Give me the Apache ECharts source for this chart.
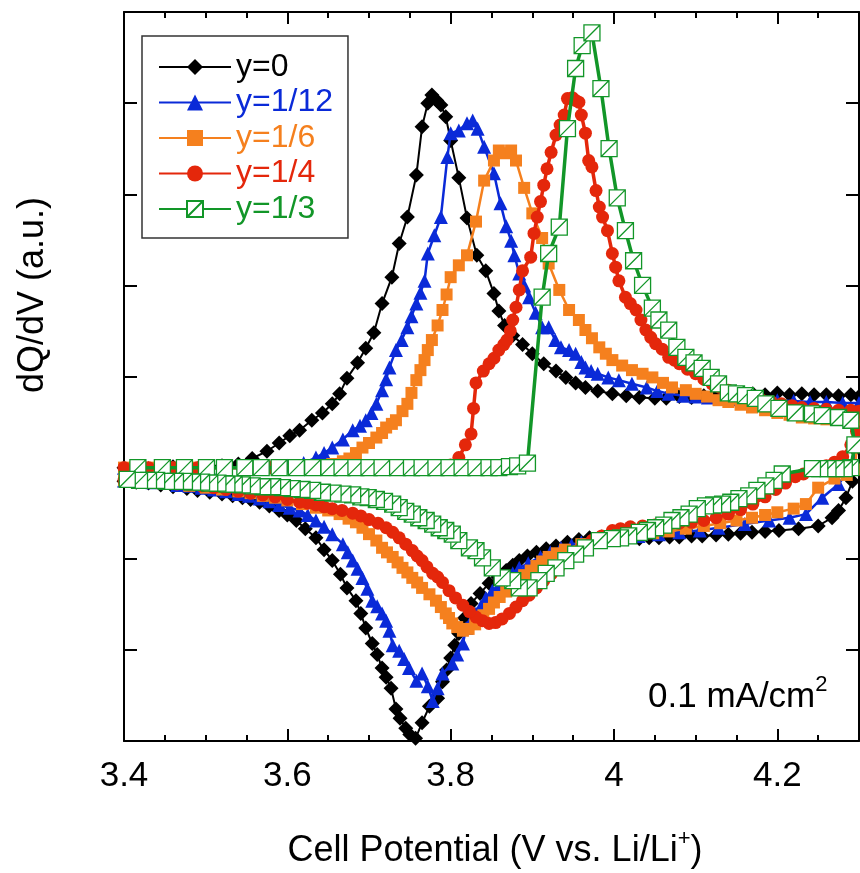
<!DOCTYPE html>
<html><head><meta charset="utf-8">
<script src="https://cdn.jsdelivr.net/npm/echarts@6/dist/echarts.min.js"></script>
<style>html,body{margin:0;padding:0;background:#fff}#c{width:860px;height:873px}</style>
</head><body><div id="c"></div>
<script>
const FONT = '"Liberation Sans", Arial, Helvetica, sans-serif';
const seriesNames = ['y=0', 'y=1/12', 'y=1/6', 'y=1/4', 'y=1/3'];
const seriesColors = ['#000000', '#0a2ad8', '#f5801e', '#e4270b', '#129628'];
const xTickValues = [3.4, 3.6, 3.8, 4.0, 4.2];
const xAxisTitle = 'Cell Potential (V vs. Li/Li{sup|+})';
const yAxisTitle = 'dQ/dV (a.u.)';
const noteText = '0.1 mA/cm{sup|2}';

// y = 0 : charge then discharge (x in V, dQ/dV in a.u.)
const dataY0 = [
[3.40,0.00],[3.42,0.00],[3.44,0.00],[3.46,0.01],[3.48,0.01],[3.50,0.01],[3.52,0.02],[3.54,0.04],[3.557,0.10],[3.575,0.18],[3.59,0.27],[3.603,0.35],[3.615,0.41],[3.63,0.52],[3.643,0.60],[3.655,0.70],[3.664,0.81],[3.673,0.98],[3.686,1.15],[3.696,1.31],[3.706,1.48],[3.716,1.80],[3.728,2.09],[3.737,2.46],[3.747,2.75],[3.758,3.21],[3.765,3.74],[3.772,4.00],[3.777,4.09],[3.783,4.03],[3.788,3.98],[3.794,3.85],[3.800,3.59],[3.810,3.18],[3.820,2.74],[3.832,2.33],[3.843,2.16],[3.853,1.91],[3.859,1.72],[3.866,1.56],[3.876,1.45],[3.888,1.35],[3.900,1.25],[3.914,1.14],[3.929,1.06],[3.941,0.99],[3.953,0.93],[3.965,0.88],[3.980,0.84],[3.998,0.81],[4.015,0.79],[4.031,0.77],[4.050,0.76],[4.064,0.76],[4.080,0.78],[4.095,0.77],[4.110,0.79],[4.125,0.78],[4.140,0.80],[4.155,0.79],[4.170,0.81],[4.185,0.80],[4.200,0.82],[4.215,0.80],[4.230,0.81],[4.245,0.80],[4.260,0.80],[4.275,0.79],[4.290,0.80],[4.300,0.78],
[4.298,0.55],[4.295,0.20],[4.292,-0.15],[4.284,-0.33],[4.275,-0.47],[4.267,-0.55],[4.250,-0.64],[4.226,-0.67],[4.202,-0.69],[4.185,-0.70],[4.169,-0.71],[4.155,-0.72],[4.140,-0.73],[4.125,-0.74],[4.108,-0.75],[4.095,-0.75],[4.080,-0.76],[4.068,-0.76],[4.055,-0.77],[4.043,-0.77],[4.031,-0.78],[4.015,-0.77],[4.000,-0.76],[3.985,-0.76],[3.970,-0.77],[3.957,-0.79],[3.943,-0.82],[3.929,-0.86],[3.917,-0.89],[3.905,-0.93],[3.894,-0.97],[3.884,-1.02],[3.876,-1.07],[3.868,-1.13],[3.858,-1.20],[3.847,-1.27],[3.836,-1.38],[3.825,-1.49],[3.817,-1.65],[3.810,-1.82],[3.805,-1.95],[3.800,-2.09],[3.795,-2.22],[3.790,-2.35],[3.784,-2.53],[3.774,-2.62],[3.765,-2.80],[3.757,-2.97],[3.750,-2.93],[3.745,-2.86],[3.738,-2.75],[3.733,-2.65],[3.727,-2.42],[3.721,-2.30],[3.716,-2.20],[3.710,-2.05],[3.704,-1.93],[3.696,-1.76],[3.690,-1.60],[3.684,-1.46],[3.673,-1.32],[3.665,-1.17],[3.655,-1.02],[3.645,-0.90],[3.635,-0.77],[3.622,-0.67],[3.611,-0.58],[3.600,-0.52],[3.590,-0.47],[3.578,-0.42],[3.566,-0.38],[3.555,-0.35],[3.545,-0.33],[3.533,-0.31],[3.520,-0.29],[3.505,-0.27],[3.490,-0.25],[3.477,-0.23],[3.460,-0.21],[3.445,-0.19],[3.430,-0.17],[3.415,-0.16],[3.400,-0.15]
];

// y = 1/12
const dataY112 = [
[3.40,0.00],[3.43,0.00],[3.46,0.00],[3.49,0.00],[3.52,0.00],[3.55,0.01],[3.58,0.01],[3.60,0.02],[3.62,0.05],[3.635,0.11],[3.645,0.16],[3.655,0.22],[3.668,0.31],[3.680,0.41],[3.689,0.46],[3.696,0.52],[3.703,0.60],[3.709,0.70],[3.716,0.85],[3.721,0.97],[3.725,1.10],[3.733,1.29],[3.740,1.40],[3.747,1.54],[3.752,1.66],[3.758,1.80],[3.763,1.92],[3.768,2.05],[3.772,2.35],[3.780,2.55],[3.788,2.75],[3.796,3.41],[3.800,3.67],[3.810,3.70],[3.820,3.78],[3.827,3.81],[3.833,3.72],[3.841,3.52],[3.853,3.23],[3.861,2.90],[3.868,2.65],[3.874,2.49],[3.878,2.33],[3.884,2.13],[3.890,2.00],[3.896,1.87],[3.904,1.70],[3.912,1.54],[3.920,1.54],[3.928,1.40],[3.935,1.32],[3.945,1.29],[3.953,1.25],[3.960,1.16],[3.965,1.10],[3.972,1.06],[3.980,1.03],[3.993,0.99],[4.006,0.96],[4.022,0.92],[4.040,0.88],[4.053,0.84],[4.067,0.81],[4.085,0.79],[4.100,0.78],[4.115,0.77],[4.130,0.76],[4.145,0.75],[4.160,0.74],[4.180,0.74],[4.200,0.74],[4.220,0.73],[4.240,0.72],[4.260,0.72],[4.280,0.71],[4.300,0.71],
[4.297,0.35],[4.292,0.02],[4.275,-0.18],[4.255,-0.33],[4.235,-0.51],[4.215,-0.55],[4.190,-0.58],[4.160,-0.62],[4.128,-0.66],[4.105,-0.69],[4.080,-0.71],[4.055,-0.73],[4.030,-0.75],[4.010,-0.77],[3.990,-0.78],[3.975,-0.80],[3.960,-0.82],[3.948,-0.85],[3.935,-0.88],[3.922,-0.93],[3.910,-0.98],[3.895,-1.05],[3.884,-1.10],[3.876,-1.16],[3.868,-1.22],[3.860,-1.28],[3.851,-1.35],[3.843,-1.43],[3.837,-1.52],[3.831,-1.60],[3.825,-1.68],[3.819,-1.76],[3.815,-1.93],[3.808,-2.05],[3.802,-2.15],[3.790,-2.26],[3.784,-2.42],[3.778,-2.56],[3.772,-2.40],[3.765,-2.26],[3.758,-2.34],[3.749,-2.20],[3.743,-2.10],[3.737,-2.01],[3.729,-1.95],[3.725,-1.79],[3.721,-1.68],[3.716,-1.60],[3.710,-1.52],[3.704,-1.46],[3.698,-1.33],[3.692,-1.21],[3.686,-1.11],[3.680,-1.02],[3.674,-0.93],[3.668,-0.84],[3.655,-0.73],[3.645,-0.65],[3.635,-0.58],[3.625,-0.52],[3.615,-0.47],[3.603,-0.44],[3.590,-0.41],[3.578,-0.37],[3.566,-0.34],[3.553,-0.31],[3.540,-0.29],[3.525,-0.26],[3.510,-0.24],[3.495,-0.22],[3.480,-0.20],[3.465,-0.19],[3.450,-0.17],[3.435,-0.16],[3.420,-0.15],[3.400,-0.14]
];

// y = 1/6
const dataY16 = [
[3.40,0.00],[3.43,0.00],[3.46,0.00],[3.49,0.00],[3.52,0.00],[3.55,0.00],[3.58,0.01],[3.61,0.01],[3.635,0.02],[3.655,0.04],[3.668,0.07],[3.676,0.10],[3.684,0.16],[3.692,0.22],[3.700,0.27],[3.709,0.33],[3.716,0.38],[3.721,0.44],[3.728,0.48],[3.733,0.52],[3.741,0.62],[3.747,0.70],[3.752,0.82],[3.758,0.96],[3.763,1.07],[3.768,1.18],[3.772,1.29],[3.777,1.40],[3.784,1.56],[3.790,1.73],[3.795,1.90],[3.800,2.09],[3.810,2.22],[3.820,2.33],[3.831,2.70],[3.841,3.15],[3.853,3.37],[3.859,3.48],[3.866,3.45],[3.874,3.48],[3.880,3.37],[3.890,3.07],[3.900,2.79],[3.912,2.52],[3.920,2.24],[3.933,1.95],[3.945,1.73],[3.957,1.62],[3.965,1.51],[3.973,1.42],[3.982,1.32],[3.990,1.25],[3.998,1.18],[4.010,1.12],[4.022,1.07],[4.035,1.03],[4.047,0.99],[4.060,0.93],[4.071,0.88],[4.088,0.85],[4.100,0.81],[4.114,0.78],[4.128,0.74],[4.140,0.72],[4.155,0.69],[4.169,0.66],[4.185,0.63],[4.200,0.60],[4.215,0.58],[4.230,0.55],[4.245,0.54],[4.260,0.53],[4.275,0.53],[4.290,0.52],[4.300,0.52],
[4.298,0.30],[4.295,-0.02],[4.285,-0.08],[4.270,-0.12],[4.250,-0.22],[4.235,-0.40],[4.220,-0.45],[4.200,-0.49],[4.185,-0.52],[4.169,-0.55],[4.150,-0.58],[4.130,-0.61],[4.110,-0.64],[4.088,-0.67],[4.067,-0.70],[4.048,-0.72],[4.030,-0.74],[4.015,-0.75],[4.000,-0.77],[3.980,-0.80],[3.960,-0.84],[3.940,-0.90],[3.930,-0.94],[3.920,-0.98],[3.912,-1.03],[3.905,-1.08],[3.898,-1.13],[3.890,-1.18],[3.883,-1.24],[3.876,-1.30],[3.868,-1.36],[3.860,-1.42],[3.853,-1.48],[3.847,-1.55],[3.840,-1.62],[3.830,-1.72],[3.822,-1.77],[3.815,-1.79],[3.808,-1.75],[3.802,-1.71],[3.798,-1.65],[3.794,-1.60],[3.788,-1.53],[3.782,-1.46],[3.774,-1.39],[3.765,-1.32],[3.759,-1.26],[3.753,-1.21],[3.747,-1.15],[3.741,-1.10],[3.735,-1.04],[3.729,-0.98],[3.722,-0.93],[3.716,-0.88],[3.709,-0.80],[3.700,-0.73],[3.692,-0.66],[3.684,-0.60],[3.675,-0.56],[3.664,-0.51],[3.650,-0.47],[3.635,-0.44],[3.618,-0.40],[3.600,-0.36],[3.585,-0.33],[3.570,-0.31],[3.555,-0.28],[3.540,-0.26],[3.520,-0.24],[3.500,-0.22],[3.480,-0.20],[3.460,-0.18],[3.445,-0.17],[3.430,-0.16],[3.415,-0.15],[3.400,-0.14]
];

// y = 1/4
const dataY14 = [
[3.40,0.00],[3.43,0.00],[3.46,0.00],[3.49,0.00],[3.52,0.00],[3.55,0.00],[3.58,0.00],[3.61,0.00],[3.64,0.00],[3.67,0.00],[3.70,0.00],[3.73,0.00],[3.76,0.00],[3.78,0.01],[3.800,0.03],[3.810,0.11],[3.818,0.25],[3.825,0.37],[3.828,0.65],[3.831,0.93],[3.840,1.06],[3.847,1.14],[3.853,1.20],[3.859,1.29],[3.865,1.35],[3.869,1.40],[3.873,1.50],[3.876,1.62],[3.880,1.76],[3.884,1.95],[3.888,2.16],[3.898,2.31],[3.902,2.57],[3.906,2.75],[3.910,2.92],[3.914,3.10],[3.918,3.28],[3.923,3.46],[3.929,3.65],[3.934,3.76],[3.939,3.87],[3.943,4.05],[3.949,4.06],[3.953,4.03],[3.957,4.01],[3.960,3.87],[3.965,3.67],[3.969,3.37],[3.973,3.30],[3.978,3.04],[3.982,2.86],[3.986,2.75],[3.992,2.60],[3.998,2.35],[4.002,2.20],[4.006,2.05],[4.014,1.87],[4.020,1.80],[4.027,1.73],[4.033,1.62],[4.039,1.51],[4.045,1.43],[4.051,1.36],[4.059,1.30],[4.067,1.21],[4.074,1.18],[4.080,1.14],[4.090,1.08],[4.100,1.03],[4.110,0.97],[4.120,0.92],[4.130,0.88],[4.140,0.85],[4.150,0.82],[4.160,0.79],[4.170,0.76],[4.181,0.74],[4.193,0.72],[4.205,0.70],[4.218,0.68],[4.230,0.66],[4.245,0.65],[4.260,0.64],[4.275,0.63],[4.290,0.63],[4.300,0.62],
[4.297,0.40],[4.290,0.25],[4.280,0.12],[4.270,0.06],[4.260,0.02],[4.245,-0.03],[4.232,-0.07],[4.222,-0.10],[4.210,-0.17],[4.198,-0.24],[4.185,-0.32],[4.170,-0.40],[4.155,-0.46],[4.140,-0.51],[4.125,-0.55],[4.110,-0.58],[4.095,-0.60],[4.080,-0.61],[4.067,-0.62],[4.050,-0.63],[4.035,-0.64],[4.020,-0.65],[4.008,-0.67],[3.998,-0.69],[3.985,-0.75],[3.973,-0.80],[3.960,-0.88],[3.950,-0.95],[3.941,-1.02],[3.932,-1.10],[3.923,-1.17],[3.914,-1.24],[3.905,-1.32],[3.896,-1.40],[3.888,-1.46],[3.880,-1.53],[3.872,-1.60],[3.863,-1.66],[3.855,-1.70],[3.847,-1.71],[3.839,-1.68],[3.831,-1.64],[3.823,-1.58],[3.815,-1.51],[3.806,-1.43],[3.798,-1.35],[3.790,-1.26],[3.784,-1.20],[3.778,-1.16],[3.771,-1.09],[3.765,-1.02],[3.759,-0.97],[3.753,-0.91],[3.745,-0.84],[3.737,-0.77],[3.729,-0.71],[3.721,-0.66],[3.711,-0.61],[3.700,-0.57],[3.690,-0.53],[3.680,-0.50],[3.667,-0.47],[3.655,-0.45],[3.645,-0.43],[3.635,-0.41],[3.625,-0.39],[3.615,-0.38],[3.600,-0.35],[3.585,-0.32],[3.570,-0.30],[3.555,-0.28],[3.540,-0.26],[3.525,-0.24],[3.510,-0.22],[3.495,-0.20],[3.480,-0.19],[3.465,-0.18],[3.450,-0.17],[3.435,-0.16],[3.420,-0.15],[3.400,-0.14]
];

// y = 1/3
const dataY13 = [
[3.417,0.00],[3.447,0.00],[3.474,0.00],[3.501,0.00],[3.523,0.00],[3.548,0.00],[3.568,0.00],[3.590,0.00],[3.611,0.00],[3.631,0.00],[3.651,0.00],[3.667,0.00],[3.684,0.00],[3.700,0.00],[3.716,0.00],[3.735,0.00],[3.752,0.00],[3.765,0.00],[3.782,0.00],[3.798,0.00],[3.814,0.00],[3.831,0.00],[3.847,0.00],[3.859,0.00],[3.872,0.01],[3.882,0.02],[3.894,0.05],[3.912,1.87],[3.920,2.35],[3.933,2.64],[3.943,3.72],[3.953,4.38],[3.961,4.63],[3.973,4.77],[3.984,4.16],[3.994,3.50],[4.004,2.96],[4.014,2.60],[4.024,2.27],[4.035,2.00],[4.047,1.75],[4.055,1.62],[4.067,1.51],[4.077,1.32],[4.088,1.21],[4.098,1.15],[4.108,1.09],[4.119,0.99],[4.128,0.92],[4.140,0.82],[4.150,0.81],[4.161,0.79],[4.173,0.76],[4.186,0.70],[4.202,0.65],[4.222,0.60],[4.243,0.59],[4.255,0.57],[4.275,0.55],[4.290,0.52],
[4.295,0.25],[4.290,0.00],[4.282,-0.01],[4.272,-0.01],[4.262,-0.01],[4.252,-0.01],[4.243,-0.01],[4.206,-0.07],[4.196,-0.14],[4.186,-0.20],[4.175,-0.25],[4.165,-0.31],[4.153,-0.34],[4.143,-0.38],[4.133,-0.40],[4.122,-0.41],[4.112,-0.42],[4.102,-0.45],[4.092,-0.51],[4.082,-0.55],[4.071,-0.58],[4.061,-0.63],[4.051,-0.66],[4.041,-0.69],[4.031,-0.71],[4.018,-0.75],[4.008,-0.77],[3.998,-0.78],[3.982,-0.80],[3.965,-0.88],[3.953,-0.95],[3.941,-1.02],[3.929,-1.10],[3.917,-1.16],[3.908,-1.24],[3.896,-1.32],[3.884,-1.32],[3.876,-1.24],[3.863,-1.21],[3.851,-1.10],[3.839,-0.99],[3.831,-0.91],[3.823,-0.88],[3.810,-0.80],[3.802,-0.73],[3.794,-0.69],[3.786,-0.66],[3.778,-0.62],[3.770,-0.58],[3.761,-0.55],[3.753,-0.51],[3.745,-0.48],[3.737,-0.44],[3.729,-0.40],[3.719,-0.37],[3.709,-0.35],[3.699,-0.33],[3.690,-0.32],[3.680,-0.30],[3.668,-0.29],[3.656,-0.28],[3.643,-0.27],[3.631,-0.25],[3.618,-0.24],[3.606,-0.23],[3.594,-0.22],[3.582,-0.21],[3.570,-0.21],[3.557,-0.20],[3.545,-0.19],[3.535,-0.18],[3.526,-0.18],[3.515,-0.17],[3.505,-0.17],[3.495,-0.16],[3.484,-0.16],[3.474,-0.15],[3.463,-0.15],[3.452,-0.15],[3.440,-0.14],[3.430,-0.14],[3.419,-0.14],[3.404,-0.13]
];

const allData = [dataY0, dataY112, dataY16, dataY14, dataY13];
const symbols = ['diamond', 'triangle', 'rect', 'circle', 'path://M0,0L10,0L10,10L0,10Z M0,10L10,0'];
const symbolSizes = [15, 14, 12, 13, 16];
const lineWidths = [2, 2.5, 2.5, 3.5, 3.5];

const chart = echarts.init(document.getElementById('c'), null, {renderer: 'canvas'});

const series = seriesNames.map((name, i) => ({
  name, type: 'line', data: allData[i], xAxisIndex: 0, yAxisIndex: 0,
  symbol: symbols[i], symbolSize: symbolSizes[i], showSymbol: true, showAllSymbol: true,
  clip: false, animation: false, z: 2 + i,
  lineStyle: {color: seriesColors[i], width: lineWidths[i]},
  itemStyle: i === 4 ? {color: '#ffffff', borderColor: seriesColors[i], borderWidth: 1.3}
                     : {color: seriesColors[i], borderWidth: 0},
  emphasis: {disabled: true}
}));

function xAxisDef(pos, major) {
  return {
    type: 'value', position: pos, min: 3.4, max: 4.3, interval: major ? 0.2 : 0.05,
    axisLine: {show: major, onZero: false, lineStyle: {color: '#000', width: 2}},
    axisTick: {show: true, inside: true, length: major ? 12 : 6, lineStyle: {color: '#000', width: 2}},
    axisLabel: {show: major && pos === 'bottom', fontSize: 35, lineHeight: 35, fontFamily: FONT, color: '#000', margin: 18,
      showMaxLabel: false, showMinLabel: true,
      formatter: v => { const r = Math.round(v * 10) / 10; return xTickValues.some(t => Math.abs(t - r) < 1e-6) ? String(r) : ''; }},
    splitLine: {show: false}, minorTick: {show: false}
  };
}
function yAxisDef(pos) {
  return {
    type: 'value', position: pos, min: -3, max: 5, interval: 1,
    axisLine: {show: true, onZero: false, lineStyle: {color: '#000', width: 2}},
    axisTick: {show: true, inside: true, length: 13, lineStyle: {color: '#000', width: 2}},
    axisLabel: {show: false}, splitLine: {show: false}
  };
}

chart.setOption({
  animation: false,
  backgroundColor: '#fff',
  grid: {left: 124, top: 12, right: 1, bottom: 132, containLabel: false},
  xAxis: [xAxisDef('bottom', true), xAxisDef('bottom', false), xAxisDef('top', true), xAxisDef('top', false)],
  yAxis: [yAxisDef('left'), yAxisDef('right')],
  legend: {
    orient: 'vertical', left: 142, top: 36,
    padding: [15, 15, 13, 16], itemGap: 3.5, itemWidth: 72, itemHeight: 20,
    borderColor: '#333', borderWidth: 1.5, backgroundColor: '#fff',
    selectedMode: false,
    textStyle: {fontSize: 32, lineHeight: 31, fontFamily: FONT},
    data: seriesNames.map((n, i) => ({name: n, textStyle: {color: seriesColors[i]}}))
  },
  graphic: [
    {type: 'text', x: 495, y: 851, z: 100,
     style: {text: xAxisTitle, fontSize: 36, fontFamily: FONT, fill: '#000', align: 'center', verticalAlign: 'middle', lineHeight: 46,
       rich: {sup: {fontSize: 22, fontFamily: FONT, fill: '#000', lineHeight: 18, verticalAlign: 'top'}}}},
    {type: 'text', x: 33, y: 295, rotation: Math.PI / 2, z: 100,
     style: {text: yAxisTitle, fontSize: 36, fontFamily: FONT, fill: '#000', align: 'center', verticalAlign: 'middle'}},
    {type: 'text', x: 648, y: 697, z: 100,
     style: {text: noteText, fontSize: 35, fontFamily: FONT, fill: '#000', align: 'left', verticalAlign: 'middle', lineHeight: 46,
       rich: {sup: {fontSize: 22, fontFamily: FONT, fill: '#000', lineHeight: 18, verticalAlign: 'top'}}}}
  ],
  series
});
</script></body></html>
